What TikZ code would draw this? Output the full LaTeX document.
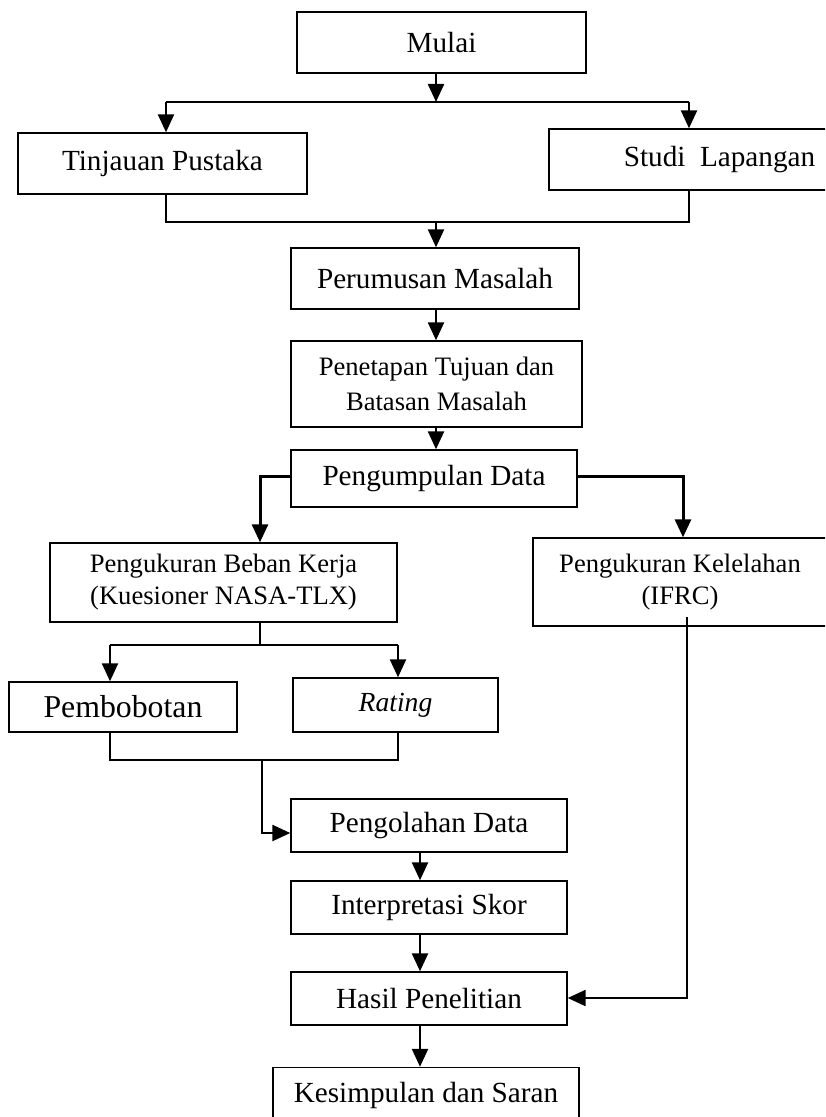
\documentclass[tikz,border=0pt]{standalone}
\usepackage{fontspec}
\setmainfont{Liberation Serif}
\usetikzlibrary{arrows.meta}
\tikzset{
  box/.style={draw,line width=.7pt,inner sep=0pt,align=center,font=\fontsize{14.6}{17.5}\selectfont},
  smalltxt/.style={font=\fontsize{13.3}{16}\selectfont},
  ln/.style={line width=.6pt},
  arr/.style={line width=1.2pt,-{Triangle[length=9pt,width=8pt]}},
}
\begin{document}
\begin{tikzpicture}[x=.5pt,y=-.5pt]
\clip (0,0) rectangle (825,1117);
% boxes
\node[box,minimum width=144.5pt,minimum height=30.5pt] (mulai) at (441.5,42.5) {Mulai};
\node[box,minimum width=144.5pt,minimum height=30.5pt] (tinjauan) at (162.5,163.5) {Tinjauan Pustaka};
\node[box,minimum width=170.5pt,minimum height=30.5pt] (studi) at (719.5,159.5) {Studi\ \ Lapangan};
\node[box,minimum width=144pt,minimum height=30.5pt] (rumus) at (435,278.5) {Perumusan Masalah};
\node[box,font=\fontsize{13.3}{17.5}\selectfont,minimum width=145.5pt,minimum height=43pt] (tujuan) at (436.5,384) {Penetapan Tujuan dan\\Batasan Masalah};
\node[box,minimum width=143pt,minimum height=28.5pt] (kumpul) at (434,478.5) {Pengumpulan Data};
\node[box,smalltxt,minimum width=173.5pt,minimum height=39.5pt] (beban) at (223.5,582.5) {Pengukuran Beban Kerja\\(Kuesioner NASA-TLX)};
\node[box,smalltxt,minimum width=147pt,minimum height=44pt] (lelah) at (680,582) {Pengukuran Kelelahan\\(IFRC)};
\node[box,font=\fontsize{15.9}{19}\selectfont,minimum width=114pt,minimum height=25pt] (bobot) at (123,707) {Pembobotan};
\node[box,font=\fontsize{13.8}{16}\selectfont,minimum width=102.5pt,minimum height=27pt] (rating) at (395.5,705) {\textit{Rating}};
\node[box,minimum width=138pt,minimum height=26.5pt] (olah) at (429,825.5) {Pengolahan Data};
\node[box,minimum width=138pt,minimum height=26.5pt] (skor) at (429,907.5) {Interpretasi Skor};
\node[box,minimum width=138pt,minimum height=26.5pt] (hasil) at (429,998.5) {Hasil Penelitian};
\node[box,minimum width=153pt,minimum height=27.5pt] (simpul) at (426,1095) {Kesimpulan dan Saran};
% branch points
\coordinate (s1) at (436,102); \coordinate (s1l) at (166,102); \coordinate (s1r) at (689,102);
\coordinate (j1) at (436,222); \coordinate (j1l) at (166,222); \coordinate (j1r) at (689,222);
\coordinate (kl) at (260,476); \coordinate (kr) at (683,476);
\coordinate (b1) at (260,645); \coordinate (b1l) at (110,645); \coordinate (b1r) at (398,645);
\coordinate (b2) at (262,760); \coordinate (b2l) at (110,760); \coordinate (b2r) at (398,760);
\coordinate (b3) at (262,833);
\coordinate (c) at (420,0);
\coordinate (h0) at (687,617); \coordinate (h1) at (687,998);
% connectors
\draw[arr] (mulai.south -| s1) -- (s1);
\draw[ln] (s1l) -- (s1r);
\draw[arr] (s1l) -- (tinjauan.north -| s1l);
\draw[arr] (s1r) -- (studi.north -| s1r);
\draw[ln] (tinjauan.south -| j1l) -- (j1l) -- (j1r) -- (studi.south -| j1r);
\draw[arr] (j1) -- (rumus.north -| j1);
\draw[arr] (rumus.south -| j1) -- (tujuan.north -| j1);
\draw[arr] (tujuan.south -| j1) -- (kumpul.north -| j1);
\draw[arr,line width=1.5pt] (kumpul.west |- kl) -- (kl) -- (beban.north -| kl);
\draw[arr,line width=1.5pt] (kumpul.east |- kr) -- (kr) -- (lelah.north -| kr);
\draw[ln] (beban.south -| b1) -- (b1);
\draw[ln] (b1l) -- (b1r);
\draw[arr] (b1l) -- (bobot.north -| b1l);
\draw[arr] (b1r) -- (rating.north -| b1r);
\draw[ln] (bobot.south -| b2l) -- (b2l) -- (b2r) -- (rating.south -| b2r);
\draw[arr] (b2) -- (b3) -- (olah.west |- b3);
\draw[arr] (olah.south -| c) -- (skor.north -| c);
\draw[arr] (skor.south -| c) -- (hasil.north -| c);
\draw[arr] (hasil.south -| c) -- (simpul.north -| c);
\draw[arr] (h0) -- (h1) -- (hasil.east |- h1);
\end{tikzpicture}
\end{document}
